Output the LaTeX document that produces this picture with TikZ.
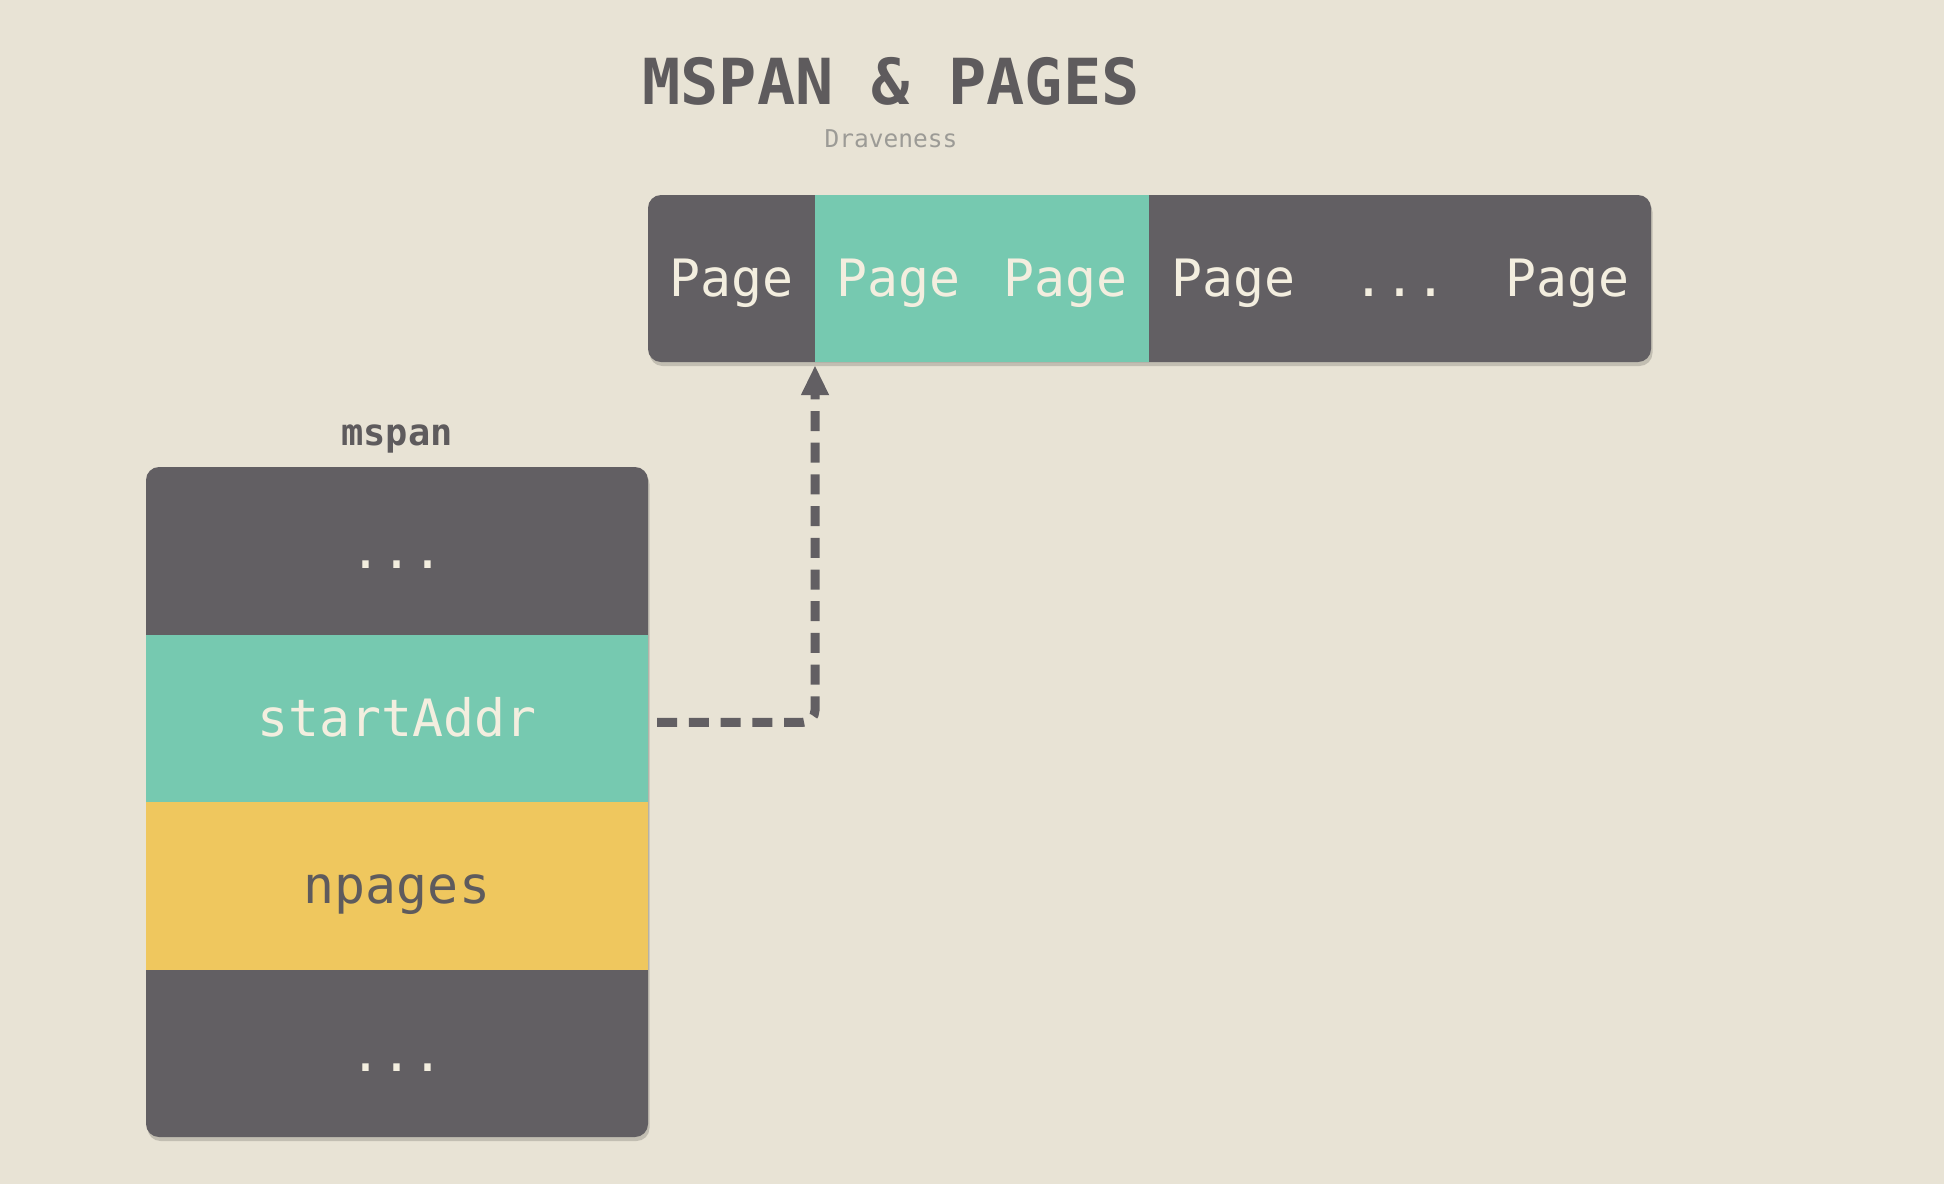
\documentclass[tikz,border=0pt]{standalone}
\usepackage{fontspec}
\setmonofont{DejaVu Sans Mono}
\usetikzlibrary{shadows,arrows.meta}
\definecolor{bgc}{HTML}{E8E3D5}
\definecolor{darkc}{HTML}{625F63}
\definecolor{tealc}{HTML}{76C9B0}
\definecolor{yelc}{HTML}{EFC75E}
\definecolor{lightc}{HTML}{F3EEDF}
\definecolor{titlec}{HTML}{5E5B5D}
\definecolor{subc}{HTML}{9C9B96}
\tikzset{
  cellfont/.style={font=\fontsize{51.5}{56}\selectfont\ttfamily},
  pagecell/.style={cellfont, draw=none, minimum width=167.17pt, minimum height=167pt,
    inner sep=0pt, text height=42pt, text depth=6pt, text=lightc},
  rowcell/.style={cellfont, draw=none, minimum width=502pt, minimum height=167.5pt,
    inner sep=0pt, text height=42pt, text depth=6pt, text=lightc},
  panel/.style={fill=darkc, rounded corners=13pt, inner sep=0pt,
    drop shadow={shadow xshift=1.5pt, shadow yshift=-4pt, opacity=0.16, fill=black}},
  link/.style={draw=darkc, line width=9pt, dash pattern=on 20pt off 11.7pt,
    rounded corners=12pt, -{Triangle[length=30pt,width=26pt]}, shorten >=3pt}
}
\begin{document}
\begin{tikzpicture}[x=1pt,y=-1pt]
\fill[bgc] (0,0) rectangle (1944,1184);
\useasboundingbox (0,0) rectangle (1944,1184);

% title
\node[font=\fontsize{63.5}{68}\selectfont\ttfamily\bfseries, text=titlec, anchor=base, inner sep=0pt] (title) at (891,104) {MSPAN \& PAGES};
\node[font=\fontsize{24.5}{27}\selectfont\ttfamily, text=subc, anchor=base, inner sep=0pt] (author) at (891,147) {Draveness};

% pages bar
\node[panel, minimum width=1003pt, minimum height=167pt] (bar) at (1149.5,278.5) {};
\node[pagecell] (s1) at (731.6,278.5) {Page};
\node[pagecell, fill=tealc] (s2) at (898.8,278.5) {Page};
\node[pagecell, fill=tealc] (s3) at (1065.9,278.5) {Page};
\node[pagecell] (s4) at (1233.1,278.5) {Page};
\node[pagecell] (s5) at (1400.3,278.5) {...};
\node[pagecell] (s6) at (1567.4,278.5) {Page};

% mspan
\node[font=\fontsize{37}{40}\selectfont\ttfamily\bfseries, text=titlec, anchor=base, inner sep=0pt] (mlabel) at (397,445) {mspan};
\node[panel, minimum width=502pt, minimum height=670pt] (mbox) at (397,802) {};
\node[rowcell] (r1) at (397,550.75) {...};
\node[rowcell, fill=tealc] (r2) at (397,718.25) {startAddr};
\node[rowcell, fill=yelc, text=titlec] (r3) at (397,885.75) {npages};
\node[rowcell] (r4) at (397,1053.25) {...};

% pointer
\draw[link] ([xshift=9pt,yshift=-4pt]r2.east) -| (s2.south west);
\end{tikzpicture}
\end{document}
